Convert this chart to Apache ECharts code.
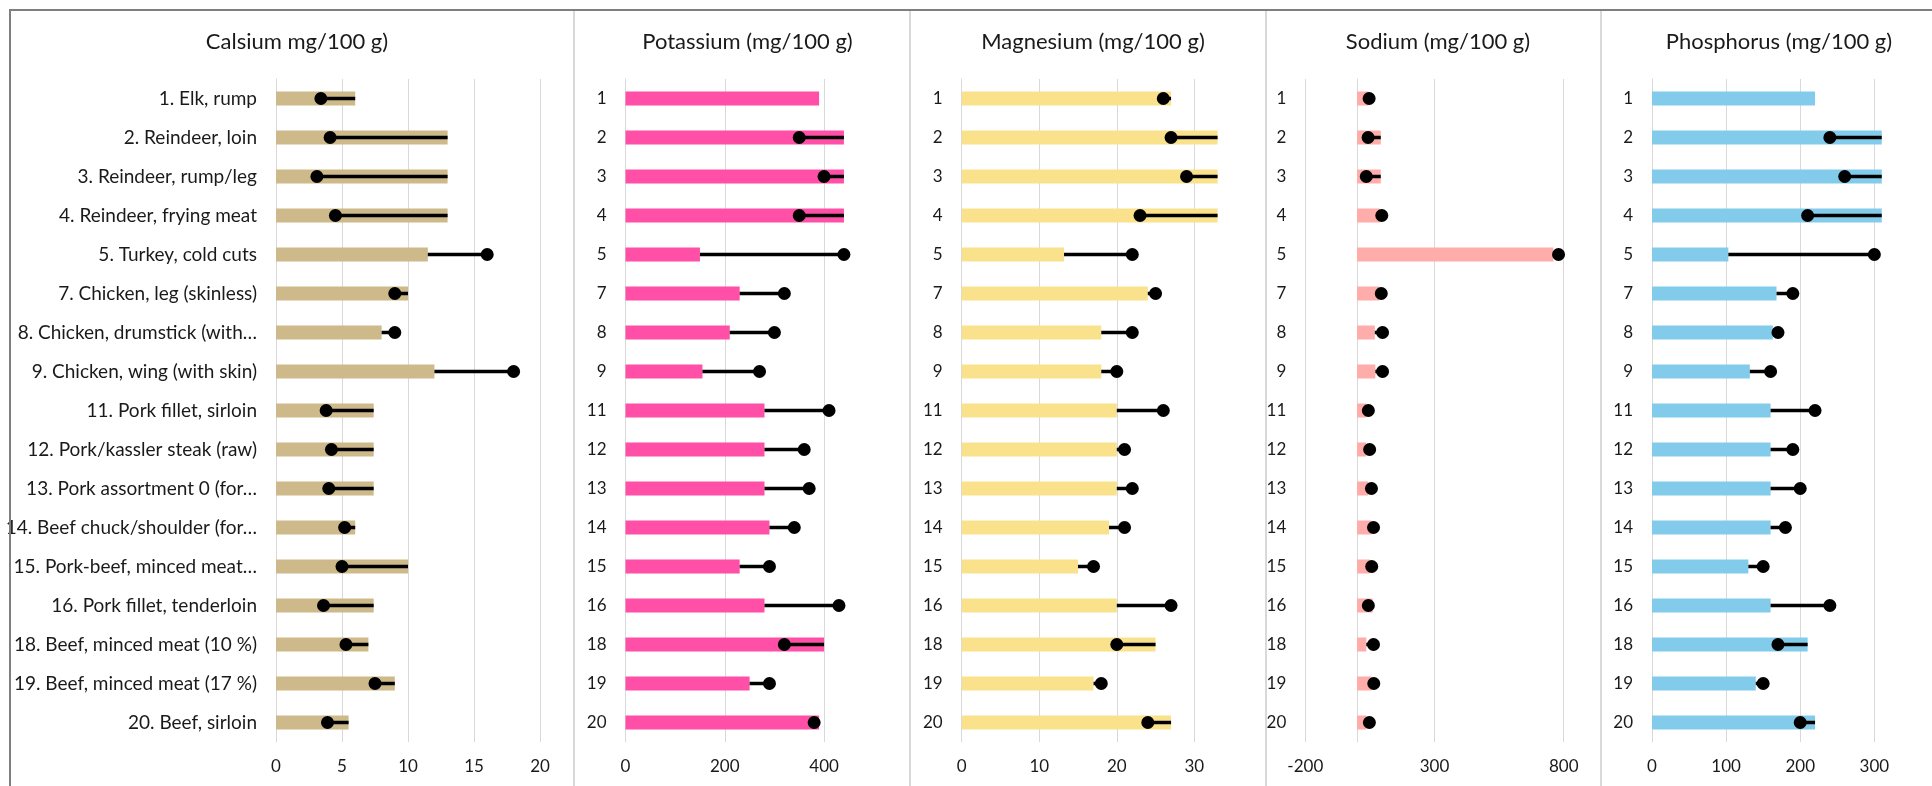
<!DOCTYPE html>
<html>
<head>
<meta charset="utf-8">
<script src="https://cdn.jsdelivr.net/npm/echarts@6/dist/echarts.min.js"></script>
<style>
html,body{margin:0;padding:0;background:#fff;}
#chart{width:1932px;height:786px;}
</style>
</head>
<body>
<div id="chart"></div>
<script>
// ---------- DATA ----------
const categoriesLong = ["1. Elk, rump","2. Reindeer, loin","3. Reindeer, rump/leg","4. Reindeer, frying meat","5. Turkey, cold cuts","7. Chicken, leg (skinless)","8. Chicken, drumstick (with\u2026","9. Chicken, wing (with skin)","11. Pork fillet, sirloin","12. Pork/kassler steak (raw)","13. Pork assortment 0 (for\u2026","14. Beef chuck/shoulder (for\u2026","15. Pork-beef, minced meat\u2026","16. Pork fillet, tenderloin","18. Beef, minced meat (10 %)","19. Beef, minced meat (17 %)","20. Beef, sirloin"];
const categoriesShort = ["1","2","3","4","5","7","8","9","11","12","13","14","15","16","18","19","20"];

const panelTitles = ["Calsium mg/100 g)","Potassium (mg/100 g)","Magnesium (mg/100 g)","Sodium (mg/100 g)","Phosphorus (mg/100 g)"];

const calciumBar = [6,13,13,13,11.5,10,8,12,7.4,7.4,7.4,6,10,7.4,7,9,5.5];
const calciumDot = [3.4,4.1,3.1,4.5,16,9,9,18,3.8,4.2,4,5.2,5,3.6,5.3,7.5,3.9];

const potassiumBar = [390,440,440,440,150,230,210,155,280,280,280,290,230,280,400,250,390];
const potassiumDot = [null,350,400,350,440,320,300,270,410,360,370,340,290,430,320,290,380];

const magnesiumBar = [27,33,33,33,13.2,24,18,18,20,20,20,19,15,20,25,17,27];
const magnesiumDot = [26,27,29,23,22,25,22,20,26,21,22,21,17,27,20,18,24];

const sodiumBar = [45,92,92,88,760,86,69,71,36,36,43,56,49,61,36,56,36];
const sodiumDot = [47,43,36,96,780,94,99,99,44,49,56,64,57,44,64,65,48];

const phosphorusBar = [220,310,310,310,103,168,163,132,160,160,160,160,130,160,210,140,220];
const phosphorusDot = [null,240,260,210,300,190,170,160,220,190,200,180,150,240,170,150,200];

// axis settings (min, max, interval) per panel
const axisMin = [0,0,0,-200,0];
const axisMax = [20,500,35,800,350];
const axisInterval = [5,200,10,500,100];

// ---------- LAYOUT / STYLE ----------
const FONT = 'Lato, "Noto Sans", sans-serif';
const TXT = '#1a1a1a';
const GRIDC = '#d9d9d9';
const colors = ['#CDB98A','#FF4FA7','#FAE28C','#FFADAA','#83CBEB'];
const grids = [
  {left:276, width:264},
  {left:625.5, width:248.2},
  {left:961.7, width:271.4},
  {left:1305.3, width:258.4},
  {left:1652, width:259.4}
];
const gridTop = 79, gridHeight = 663;
const titleX = [292, 742.5, 1088, 1433, 1774];
const dividers = [574, 910, 1266, 1601];

const bars = [calciumBar, potassiumBar, magnesiumBar, sodiumBar, phosphorusBar];
const dots = [calciumDot, potassiumDot, magnesiumDot, sodiumDot, phosphorusDot];

const option = {
  animation:false,
  backgroundColor:'#fff',
  textStyle:{fontFamily:FONT},
  grid: grids.map(g => ({left:g.left, width:g.width, top:gridTop, height:gridHeight, containLabel:false})),
  xAxis: grids.map((g,i) => ({
    type:'value', gridIndex:i, min:axisMin[i], max:axisMax[i], interval:axisInterval[i],
    axisLine:{show:false}, axisTick:{show:false},
    axisLabel:{fontFamily:FONT, fontSize:17, color:TXT, margin:16, showMaxLabel: i===0 || i===3},
    splitLine:{show:true, showMaxLine: i===0 || i===3, lineStyle:{color:GRIDC, width:1}}
  })),
  yAxis: grids.map((g,i) => ({
    type:'category', gridIndex:i, inverse:true,
    data: i===0 ? categoriesLong : categoriesShort,
    axisLine:{show:true, onZero:true, lineStyle:{color:GRIDC, width:1}},
    axisTick:{show:false},
    axisLabel:{fontFamily:FONT, fontSize: i===0 ? 19 : 17, color:TXT, margin:19, interval:0}
  })),
  title: panelTitles.map((t,i) => ({
    text:t, left:titleX[i], top:26, textAlign:'center',
    textStyle:{fontFamily:FONT, fontSize:22, fontWeight:'normal', color:TXT}
  })),
  graphic: [
    {type:'polyline', shape:{points:[[10,786],[10,10],[1932,10]]}, style:{stroke:'#7f7f7f', lineWidth:2, fill:null}, z:100}
  ].concat(dividers.map(x => ({type:'line', shape:{x1:x,y1:11,x2:x,y2:786}, style:{stroke:'#d9d9d9', lineWidth:2}, z:100}))),
  series: []
};

bars.forEach((b,i) => {
  option.series.push({
    type:'bar', xAxisIndex:i, yAxisIndex:i, data:b, barWidth:14,
    itemStyle:{color:colors[i]}, silent:true, z:2
  });
  const rows = [];
  dots[i].forEach((d,k) => { if (d !== null) rows.push([b[k], d, k]); });
  option.series.push({
    type:'custom', xAxisIndex:i, yAxisIndex:i, data:rows, z:5, silent:true,
    encode:{x:[0,1], y:2},
    renderItem:(params, api) => {
      const p0 = api.coord([api.value(0), api.value(2)]);
      const p1 = api.coord([api.value(1), api.value(2)]);
      return {type:'group', children:[
        {type:'line', shape:{x1:p0[0], y1:p0[1], x2:p1[0], y2:p1[1]}, style:{stroke:'#000', lineWidth:3.5}},
        {type:'circle', shape:{cx:p1[0], cy:p1[1], r:6.5}, style:{fill:'#000'}}
      ]};
    }
  });
});

const chart = echarts.init(document.getElementById('chart'), null, {renderer:'canvas'});
chart.setOption(option);
</script>
</body>
</html>
